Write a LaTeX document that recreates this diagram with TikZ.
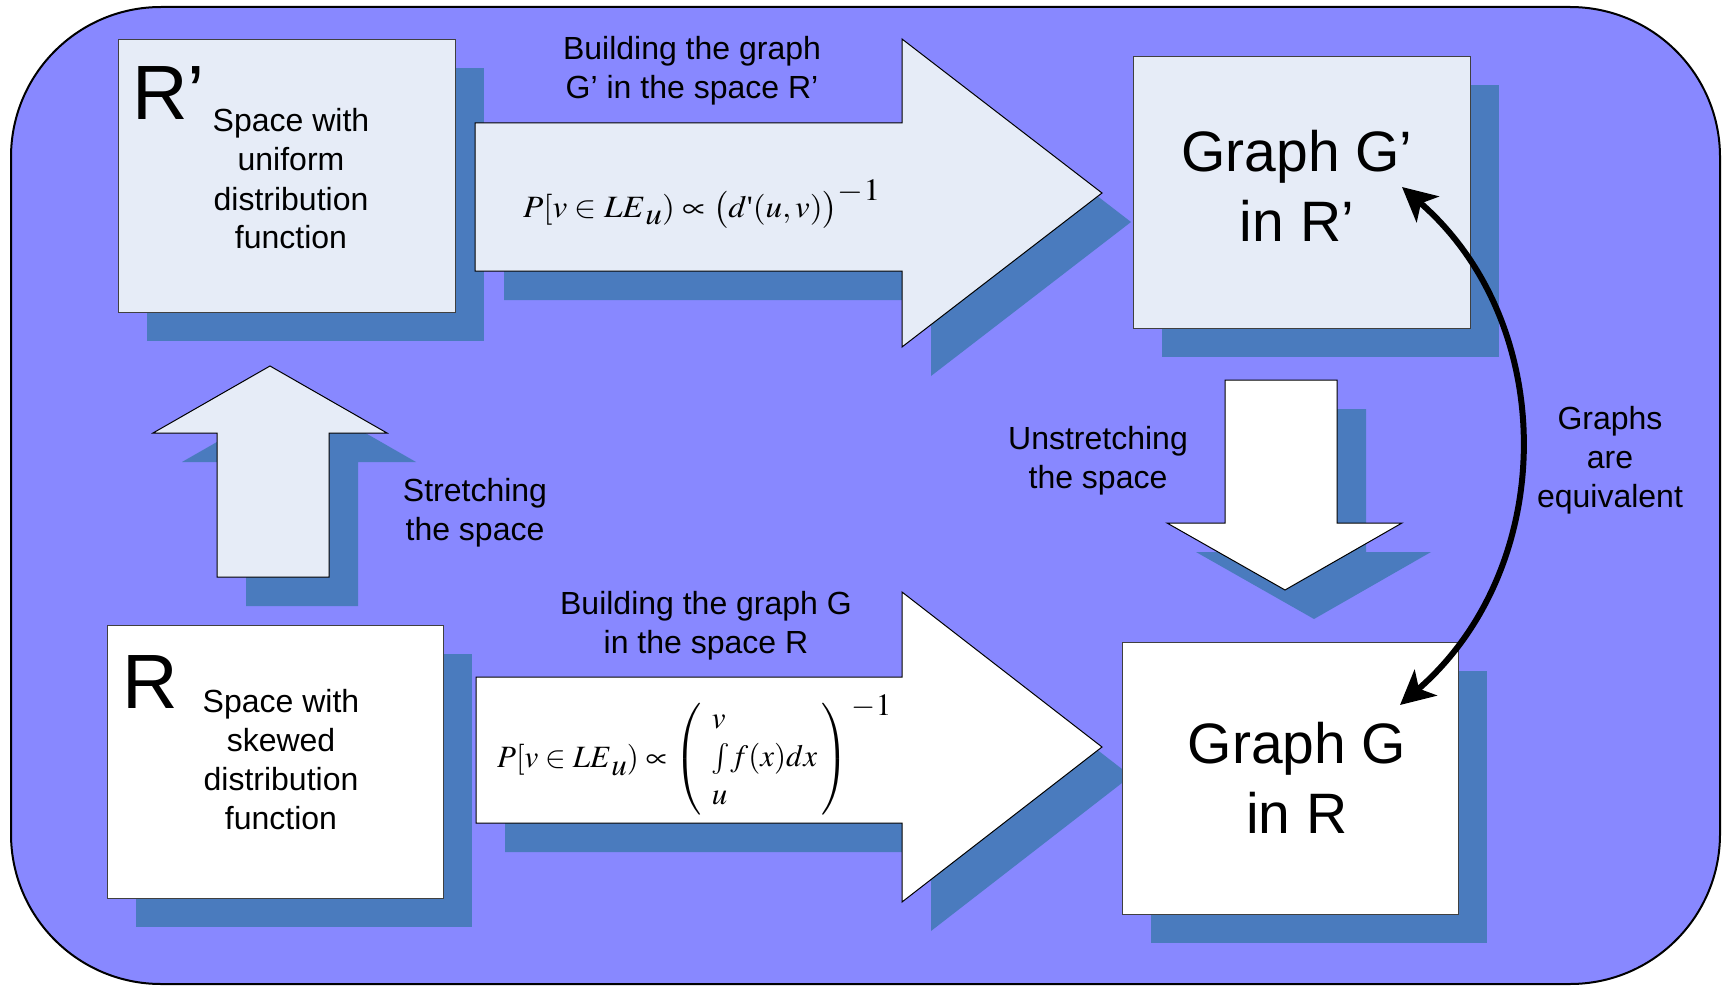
\documentclass[tikz,border=0pt]{standalone}
\usepackage{mathptmx}
\usepackage[no-math]{fontspec}
\setmainfont{Liberation Sans}
\newfontfamily\tmsfont{Liberation Serif}
\usetikzlibrary{arrows.meta}
\definecolor{bgc}{RGB}{136,136,255}
\definecolor{shc}{RGB}{74,123,190}
\definecolor{lightc}{RGB}{230,236,247}
\newcommand\TopArrowPath{(475,123) -- (902,123) -- (902,39) -- (1102,193) -- (902,347) -- (902,271) -- (475,271) -- cycle}
\newcommand\BotArrowPath{(476,677) -- (902,677) -- (902,592) -- (1102,747) -- (902,902) -- (902,823) -- (476,823) -- cycle}
\newcommand\UpArrowPath{(217,577) -- (217,433) -- (153,433) -- (270,366) -- (387,433) -- (329,433) -- (329,577) -- cycle}
\newcommand\DownArrowPath{(1225,380) -- (1337,380) -- (1337,523) -- (1402,523) -- (1285,590) -- (1167,523) -- (1225,523) -- cycle}
\begin{document}
\begin{tikzpicture}[x=1pt,y=-1pt,
  box/.style={draw=black!75, line width=1.3pt, inner sep=0pt, anchor=north west, minimum height=273pt},
  shadowfill/.style={fill=shc, draw=none},
  blockarrow/.style={draw=black, line width=1pt, line join=miter},
  lbl/.style={font=\fontsize{32}{39}\selectfont, align=center, inner sep=0pt, anchor=base},
  bigtxt/.style={font=\fontsize{57}{70}\selectfont, align=center, inner sep=0pt, anchor=base},
  letter/.style={font=\fontsize{77}{80}\selectfont, inner sep=0pt, anchor=base west},
  eqn/.style={inner sep=0pt, anchor=base west},
  equiv/.style={line width=6pt, {Stealth[length=34pt,width=34pt,inset=9pt]}-{Stealth[length=34pt,width=34pt,inset=9pt]}}
]
\useasboundingbox (0,0) rectangle (1727,987);
% background panel
\draw[fill=bgc, line width=2pt, rounded corners=150pt] (11,7) rectangle (1720,984);

% shadows
\fill[shadowfill] (147,68) rectangle (484,341);
\fill[shadowfill] (1162,85) rectangle (1499,357);
\fill[shadowfill] (136,654) rectangle (472,927);
\fill[shadowfill] (1151,671) rectangle (1487,943);
\begin{scope}[shift={(29,29)}]
  \fill[shadowfill] \TopArrowPath;
  \fill[shadowfill] \BotArrowPath;
  \fill[shadowfill] \UpArrowPath;
  \fill[shadowfill] \DownArrowPath;
\end{scope}

% block arrows
\filldraw[blockarrow, fill=lightc] \TopArrowPath;
\filldraw[blockarrow, fill=white] \BotArrowPath;
\filldraw[blockarrow, fill=lightc] \UpArrowPath;
\filldraw[blockarrow, fill=white] \DownArrowPath;

% boxes
\node[box, fill=lightc, minimum width=337pt] (rp) at (118,39) {};
\node[box, fill=lightc, minimum width=337pt, minimum height=272pt] (gp) at (1133,56) {};
\node[box, fill=white, minimum width=336pt] (r) at (107,625) {};
\node[box, fill=white, minimum width=336pt, minimum height=272pt] (g) at (1122,642) {};

% box texts (base anchor = last line baseline)
\node[letter] (rpL) at (132,120) {R’};
\node[lbl] (rpT) at (291,249) {Space with\\uniform\\distribution\\function};
\node[letter] (rL) at (122,708) {R};
\node[lbl] (rT) at (281,829) {Space with\\skewed\\distribution\\function};
\node[bigtxt] (gpT) at (1297,241) {Graph G’\\in R’};
\node[bigtxt] (gT) at (1297,833) {Graph G\\in R};

% labels
\node[lbl] (topL) at (692,99) {Building the graph\\G’ in the space R’};
\node[lbl] (botL) at (706,653) {Building the graph G\\in the space R};
\node[lbl] (upL) at (475,540) {Stretching\\the space};
\node[lbl] (downL) at (1098,488) {Unstretching\\the space};
\node[lbl] (eqL) at (1610,507) {Graphs\\are\\equivalent};

% formulas
\node[eqn] (f1) at (523,218) {\fontsize{31}{38}\selectfont\scalebox{1.07}[1]{%
  $P[v\in LE\raisebox{-7pt}{$u$})\propto\bigl(d\mbox{\tmsfont\char"27}(u,v)\bigr)\raisebox{17pt}{$-1$}$}};
\node[eqn] (f2) at (497,767) {\fontsize{31}{38}\selectfont
  $P[v\in LE\raisebox{-8pt}{$u$})\propto\left(\begin{array}{@{\hspace{10pt}}l@{\hspace{4pt}}}v\\ {\textstyle\int} f(x)dx\\ u\end{array}\right)\raisebox{52pt}{$-1$}$};

% equivalence arrow
\coordinate (eqa) at (1402,187);
\coordinate (eqb) at (1400,705);
\draw[equiv] (eqa) .. controls (1560,324) and (1558,568) .. (eqb);
\end{tikzpicture}
\end{document}
